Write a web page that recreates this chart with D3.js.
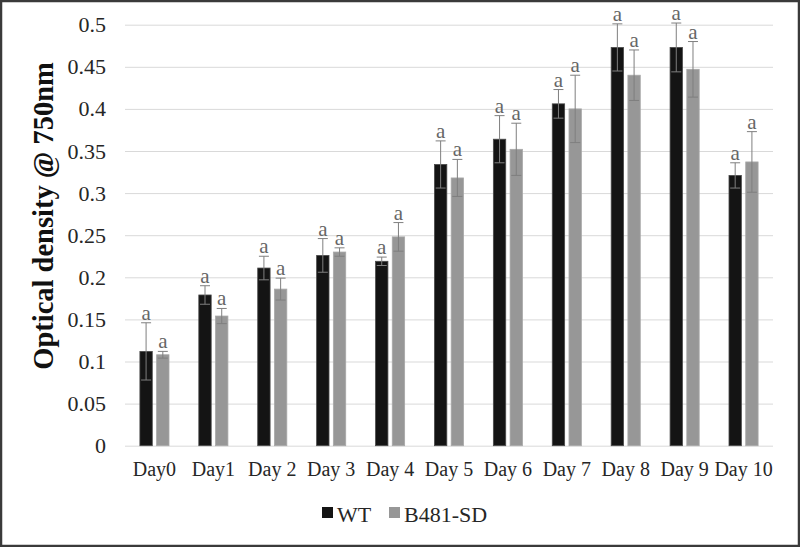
<!DOCTYPE html>
<html>
<head>
<meta charset="utf-8">
<script src="https://cdn.jsdelivr.net/npm/d3@7"></script>
<style>
html,body{margin:0;padding:0;background:#fff;}
svg{display:block;}
svg text{font-family:"Liberation Serif","Times New Roman",serif;}
</style>
</head>
<body>
<svg id="chart" width="800" height="547"></svg>
<script>
const categories = ["Day0","Day1","Day 2","Day 3","Day 4","Day 5","Day 6","Day 7","Day 8","Day 9","Day 10"];
const seriesNames = ["WT","B481-SD"];
const wtValues = [0.112, 0.179, 0.211, 0.226, 0.219, 0.334, 0.364, 0.406, 0.473, 0.473, 0.321];
const wtErrors = [0.034, 0.011, 0.014, 0.020, 0.005, 0.028, 0.028, 0.017, 0.028, 0.029, 0.015];
const b481Values = [0.108, 0.154, 0.186, 0.230, 0.248, 0.318, 0.352, 0.400, 0.440, 0.447, 0.337];
const b481Errors = [0.004, 0.009, 0.013, 0.005, 0.017, 0.022, 0.031, 0.040, 0.030, 0.033, 0.036];
const sigLabels = ["a","a","a","a","a","a","a","a","a","a","a"];
const yTicks = [0,0.05,0.1,0.15,0.2,0.25,0.3,0.35,0.4,0.45,0.5];
const yTickLabels = ["0","0.05","0.1","0.15","0.2","0.25","0.3","0.35","0.4","0.45","0.5"];

(function(){
const colors = {"WT":"#141414","B481-SD":"#979797"};
const strokeCol = {"WT":"#4a4a4a","B481-SD":"#a8a8a8"};
const serif = '"Liberation Serif","Times New Roman",serif';

const svg = d3.select("#chart");
const W = 800, H = 547;
const pLeft = 125, pRight = 773, pTop = 24.7, pBottom = 445.7;

svg.append("rect").attr("x",1).attr("y",1).attr("width",W-2).attr("height",H-2)
  .attr("fill","#fff").attr("stroke","#3a3a3a").attr("stroke-width",2.5);

const x0 = d3.scaleBand().domain(categories).range([pLeft,pRight]).paddingInner(0).paddingOuter(0);
const groupW = 29.1;
const x1 = d3.scaleBand().domain(seriesNames).range([0,groupW]).paddingInner(0.26).paddingOuter(0);
const y = d3.scaleLinear().domain([0,0.5]).range([pBottom,pTop]);

const yAxis = d3.axisLeft(y).tickValues(yTicks).tickSize(-(pRight-pLeft)).tickPadding(19)
  .tickFormat((d,i)=>yTickLabels[i]);
const gy = svg.append("g").attr("transform",`translate(${pLeft},0)`).call(yAxis);
gy.attr("font-family",null);
gy.select(".domain").remove();
gy.selectAll(".tick line").attr("stroke","#d9d9d9").attr("stroke-width",1);
gy.selectAll(".tick text").style("font-family",serif).style("font-size","22px").attr("fill","#262626");

const xAxis = d3.axisBottom(x0).tickSize(0).tickPadding(16);
const gx = svg.append("g").attr("transform",`translate(0,${pBottom})`).call(xAxis);
gx.attr("font-family",null);
gx.select(".domain").remove();
gx.selectAll(".tick text").style("font-family",serif).style("font-size","20px").attr("fill","#262626");

const data = categories.map((c,i)=>({cat:c, items:[
  {s:"WT", v:wtValues[i], e:wtErrors[i], lab:sigLabels[i]},
  {s:"B481-SD", v:b481Values[i], e:b481Errors[i], lab:sigLabels[i]}
]}));

const groups = svg.append("g").selectAll("g").data(data).join("g")
  .attr("transform",d=>`translate(${x0(d.cat)+(x0.bandwidth()-groupW)/2},0)`);

groups.selectAll("rect").data(d=>d.items).join("rect")
  .attr("x",d=>x1(d.s)).attr("width",x1.bandwidth())
  .attr("y",d=>y(d.v)).attr("height",d=>y(0)-y(d.v))
  .attr("fill",d=>colors[d.s]).attr("stroke",d=>strokeCol[d.s]).attr("stroke-width",0.8);

const errG = groups.selectAll("g.err").data(d=>d.items).join("g").attr("class","err");
const cx = d=>x1(d.s)+x1.bandwidth()/2;
errG.append("line")
  .attr("x1",cx).attr("x2",cx)
  .attr("y1",d=>y(d.v+d.e)).attr("y2",d=>y(d.v-d.e))
  .attr("stroke","#7f7f7f").attr("stroke-width",1);
errG.append("line")
  .attr("x1",d=>cx(d)-5).attr("x2",d=>cx(d)+5)
  .attr("y1",d=>y(d.v+d.e)).attr("y2",d=>y(d.v+d.e))
  .attr("stroke","#7f7f7f").attr("stroke-width",1);
errG.append("line")
  .attr("x1",d=>cx(d)-5).attr("x2",d=>cx(d)+5)
  .attr("y1",d=>y(d.v-d.e)).attr("y2",d=>y(d.v-d.e))
  .attr("stroke","#7f7f7f").attr("stroke-width",1);
errG.append("text")
  .attr("x",cx).attr("y",d=>y(d.v+d.e)-3)
  .attr("text-anchor","middle").style("font-family",serif).style("font-size","21px")
  .attr("fill","#666").text(d=>d.lab);

svg.append("text").attr("transform","translate(53,216) rotate(-90)")
  .attr("text-anchor","middle").style("font-family",serif).style("font-weight","bold")
  .style("font-size","28.5px").attr("fill","#111").text("Optical density @ 750nm");

const legendX = {"WT":322,"B481-SD":389};
const lg = svg.append("g").selectAll("g").data(seriesNames).join("g")
  .attr("transform",d=>`translate(${legendX[d]},507)`);
lg.append("rect").attr("width",11).attr("height",11).attr("fill",d=>colors[d]);
lg.append("text").attr("x",15).attr("y",15).style("font-family",serif).style("font-size","22px")
  .attr("fill","#262626").text(d=>d);
})();
</script>
</body>
</html>
